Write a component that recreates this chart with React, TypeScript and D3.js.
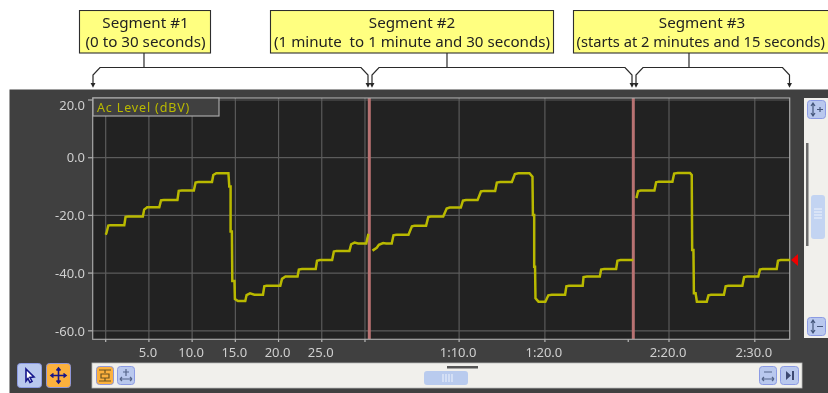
import React from "react";
import * as d3 from "d3";

const W = 828, H = 393;
const yTicks = [20, 0, -20, -40, -60];
const seg1Ticks = [0, 5, 10, 15, 20, 25, 30];
const seg2Ticks = [70, 80];
const seg2EndTick = [90];
const seg3Ticks = [140, 150];
const labelled: Record<number, string> = { 5: "5.0", 10: "10.0", 15: "15.0", 20: "20.0", 25: "25.0", 70: "1:10.0", 80: "1:20.0", 140: "2:20.0", 150: "2:30.0" };

const seg1Data: [number, number][] = [
  [0, -26.7], [0.1, -26], [0.3, -23.5], [0.5, -23.4], [2.15, -23.4], [2.3, -20.5], [2.6, -20.4], [4.3, -20.4], [4.45, -18], [4.8, -17.2], [6.2, -17.2], [6.4, -14.8], [6.7, -14.7],
  [8.3, -14.7], [8.45, -11.5], [8.8, -11.4], [10.2, -11.4], [10.4, -8.6], [10.7, -8.4], [12.3, -8.4], [12.45, -6], [12.8, -5.4], [14.2, -5.4], [14.3, -10], [14.45, -10], [14.45, -25.6], [14.6, -25.6],
  [14.65, -42.7], [14.9, -42.7], [14.95, -49], [15.3, -49.7], [16.15, -49.7], [16.3, -47.6], [16.7, -47], [17.2, -47.5], [18.2, -47.5], [18.35, -44.6], [18.6, -44.4], [20.2, -44.4],
  [20.4, -42], [20.8, -41.2], [22.2, -41.2], [22.35, -38.8], [22.7, -38.6], [24.3, -38.6], [24.45, -35.7], [24.8, -35.5], [26.2, -35.5], [26.4, -32.5], [26.7, -32.3], [28.2, -32.3],
  [28.4, -30], [28.8, -29.4], [29.2, -29.7], [30.15, -29.7], [30.4, -26.4],
];
const seg2Data: [number, number][] = [
  [59.9, -32.2], [60.4, -31.2], [60.65, -30.2], [61.15, -29.6], [61.5, -29.7], [62.15, -29.7], [62.35, -26.9], [62.7, -26.7], [64.1, -26.7], [64.5, -23.8], [64.8, -23.6], [66.15, -23.6],
  [66.4, -20.6], [66.7, -20.4], [68.15, -20.4], [68.55, -17.6], [68.9, -17.3], [70.2, -17.3], [70.45, -14.9], [70.8, -14.7], [72.15, -14.7], [72.55, -11.7], [72.9, -11.5], [74.2, -11.5],
  [74.4, -8.6], [74.8, -8.4], [76.15, -8.4], [76.5, -5.7], [76.9, -5.4], [78.2, -5.4], [78.55, -6.6], [78.6, -19.9], [78.75, -19.9], [78.75, -37.8], [78.85, -37.8], [78.9, -48.7], [79.25, -49.9],
  [80.05, -49.9], [80.4, -47.7], [80.8, -47.5], [82.35, -47.5], [82.5, -44.6], [82.8, -44.4], [84.4, -44.4], [84.5, -41.4], [84.9, -41.2], [86.4, -41.2], [86.55, -38.8], [86.9, -38.6],
  [88.3, -38.6], [88.45, -35.7], [88.8, -35.5], [90.3, -35.5],
];
const seg3Data: [number, number][] = [
  [136.2, -14], [136.4, -11.6], [136.7, -11.4], [138.3, -11.4], [138.5, -8.5], [138.8, -8.3], [140.4, -8.3], [140.6, -5.5], [141, -5.3], [142.45, -5.3], [142.65, -6], [142.7, -32], [142.85, -32],
  [142.9, -47], [143.1, -47], [143.25, -49.9], [144.4, -49.9], [144.6, -47.7], [144.9, -47.5], [146.4, -47.5], [146.6, -44.6], [146.9, -44.4], [148.55, -44.4], [148.75, -41.4], [149.1, -41.2],
  [150.4, -41.2], [150.6, -38.8], [150.9, -38.6], [152.55, -38.6], [152.7, -35.7], [153, -35.5], [154.1, -35.5],
];
const separators = [30.5, 90.3];
const calloutTitles = ["Segment #1", "Segment #2", "Segment #3"];
const calloutNotes = ["(0 to 30 seconds)", "(1 minute  to 1 minute and 30 seconds)", "(starts at 2 minutes and 15 seconds)"];

const y = d3.scaleLinear().domain([0, -60]).range([157.7, 330.8]);
const xA = d3.scaleLinear().domain([0, 30.5]).range([105.7, 369.3]);
const xB = d3.scaleLinear().domain([60, 90.3]).range([373.3, 633.3]);
const xC = d3.scaleLinear().domain([140, 154.1]).range([669, 790]);

const line = (sx: d3.ScaleLinear<number, number>) =>
  d3.line<[number, number]>().x((d) => sx(d[0])).y((d) => y(d[1]));

const TRACE = "#b9b900";
const FONT = "'Noto Sans', Tahoma, sans-serif";

const Btn = ({ x, y: by, w, h, on, children }: any) => (
  <g transform={`translate(${x},${by})`}>
    <rect x={0.5} y={0.5} width={w - 1} height={h - 1} rx={3} fill={on ? "#fcb13c" : "#b9c8ee"} stroke={on ? "#8f96d8" : "#8c9be4"} strokeWidth={1} />
    {children}
  </g>
);

const Bracket = ({ x0, x1, stem }: { x0: number; x1: number; stem: number }) => (
  <g fill="none" stroke="#2a2a2a" strokeWidth={1.2}>
    <path d={`M${stem},53V67.5`} />
    <path d={`M${x0},84V75L${x0 + 7},67.5H${x1 - 7}L${x1},75V84`} />
    <path d={`M${x0 - 1.5},83.5L${x0},86.5L${x0 + 1.5},83.5Z M${x1 - 1.5},83.5L${x1},86.5L${x1 + 1.5},83.5Z`} fill="#111" />
  </g>
);

export default function App() {
  const gridXs = [...seg1Ticks.map((t) => xA(t)), ...seg2Ticks.map((t) => xB(t)), ...seg3Ticks.map((t) => xC(t))];
  const boxes = [
    { x: 79, w: 132, cx: 145.5, noteSize: 15.2 },
    { x: 270, w: 284, cx: 412, noteSize: 15.1 },
    { x: 573, w: 270, cx: 702, noteSize: 14.7 },
  ];
  return (
    <svg width={W} height={H} viewBox={`0 0 ${W} ${H}`} style={{ position: "fixed", left: 0, top: 0, display: "block", background: "#fff" }} fontFamily={FONT}>
      <defs>
        <filter id="soft" x="0" y="0" width="100%" height="100%"><feGaussianBlur stdDeviation="0.35" /></filter>
      </defs>
      <g filter="url(#soft)">
      {/* callouts */}
      {boxes.map((b, i) => (
        <g key={i}>
          <rect x={b.x + 0.5} y={10.5} width={b.w - 1} height={42.5} fill="#ffff80" stroke="#2f2f2f" strokeWidth={1.1} />
          <text x={b.cx} y={27.5} textAnchor="middle" fontSize={15.2} fill="#222">{calloutTitles[i]}</text>
          {i === 2 ? (
            <text x={576.5} y={46.5} fontSize={b.noteSize} fill="#222" style={{ whiteSpace: "pre" }}>{calloutNotes[i]}</text>
          ) : (
            <text x={b.cx} y={46.5} textAnchor="middle" fontSize={b.noteSize} fill="#222" style={{ whiteSpace: "pre" }}>{calloutNotes[i]}</text>
          )}
        </g>
      ))}
      <Bracket x0={93} x1={368} stem={144} />
      <Bracket x0={372} x1={632} stem={447} />
      <Bracket x0={636} x1={789.5} stem={689} />

      {/* panel */}
      <rect x={9.5} y={89.5} width={W - 9.5} height={H - 89.5} fill="#3f3f3f" />
      <rect x={92.5} y={98} width={697.5} height={241.5} fill="#202020" />

      {/* grid */}
      {yTicks.map((v) => (
        <g key={v}>
          <line x1={88} x2={790} y1={y(v)} y2={y(v)} stroke="#5c5c5c" strokeWidth={1.2} />
          <line x1={88} x2={93} y1={y(v)} y2={y(v)} stroke="#aaa" strokeWidth={1.2} />
          <text x={85} y={Math.max(y(v), 105) + 4.7} textAnchor="end" fontSize={13} fill="#cfcfcf">{v.toFixed(1)}</text>
        </g>
      ))}
      {gridXs.map((gx, i) => (
        <g key={i}>
          <line x1={gx} x2={gx} y1={98} y2={339} stroke="#5c5c5c" strokeWidth={1.2} />
          <line x1={gx} x2={gx} y1={339} y2={342} stroke="#bbb" strokeWidth={1.2} />
        </g>
      ))}
      {seg2EndTick.map((t) => (
        <line key={t} x1={xB(t) - 2.5} x2={xB(t) - 2.5} y1={339} y2={342} stroke="#bbb" strokeWidth={1.2} />
      ))}
      {[...seg1Ticks.map((t) => [t, xA(t)]), ...seg2Ticks.map((t) => [t, xB(t)]), ...seg3Ticks.map((t) => [t, xC(t)])]
        .filter(([t]) => labelled[t])
        .map(([t, px]) => (
          <text key={t} x={px - 1} y={357} textAnchor="middle" fontSize={13} fill="#cfcfcf">{labelled[t]}</text>
        ))}

      {/* separators */}
      <line x1={xA(separators[0])} x2={xA(separators[0])} y1={98} y2={339} stroke="#b87272" strokeWidth={3} />
      <line x1={xB(separators[1])} x2={xB(separators[1])} y1={98} y2={339} stroke="#b87272" strokeWidth={3} />

      {/* frame */}
      <rect x={92.7} y={98} width={697} height={241.3} fill="none" stroke="#a8a8a8" strokeWidth={1.2} />

      {/* traces */}
      <path d={line(xA)(seg1Data)!} fill="none" stroke={TRACE} strokeWidth={2.5} />
      <path d={line(xB)(seg2Data)!} fill="none" stroke={TRACE} strokeWidth={2.5} />
      <path d={line(xC)(seg3Data)!} fill="none" stroke={TRACE} strokeWidth={2.5} />

      {/* legend */}
      <rect x={93} y={98} width={126} height={18} fill="#404040" stroke="#a8a8a8" strokeWidth={1.2} />
      <text x={97} y={111.5} fontSize={12.5} letterSpacing={0.85} fill={TRACE}>Ac Level (dBV)</text>

      {/* marker */}
      <path d={`M791,${y(-35.5)}L798,${y(-35.5) - 6}V${y(-35.5) + 6}Z`} fill="#f00000" />

      {/* right scrollbar */}
      <rect x={804} y={98} width={24} height={240} fill="#f1f0ec" />
      <rect x={806} y={143} width={2.5} height={103} fill="#6a6a6a" />
      <rect x={811} y={195} width={14} height={44} rx={3} fill="#c3d4f2" />
      <path d="M814,209h8M814,212h8M814,215h8M814,218h8" stroke="#eef3fc" strokeWidth={1} />
      <Btn x={807} y={100} w={19} h={19}>
        <path d="M6,4V15M4,6L6,3L8,6M4,13L6,16L8,13M10,9.5H16M13,7V12" stroke="#44557a" strokeWidth={1.2} fill="none" />
      </Btn>
      <Btn x={807} y={317} w={19} h={19}>
        <path d="M6,4V15M4,6L6,3L8,6M4,13L6,16L8,13M10,9.5H16" stroke="#44557a" strokeWidth={1.2} fill="none" />
      </Btn>

      {/* bottom bar */}
      <rect x={92} y={363} width={710} height={25} fill="#f1f0ec" stroke="#bbb" strokeWidth={0.8} />
      <rect x={447} y={366} width={31} height={2.5} fill="#555" />
      <rect x={424} y={371} width={44} height={14} rx={3} fill="#b9cbee" />
      <path d="M443,374v8M446,374v8M449,374v8M452,374v8" stroke="#eef3fc" strokeWidth={1} />
      <Btn x={96} y={366} w={18} h={19} on>
        <path d="M3,4H15M3,15H15M9,4V7M9,12V15M5,8H13V12H5Z" stroke="#6a5320" strokeWidth={1.2} fill="none" />
      </Btn>
      <Btn x={117} y={366} w={18} h={19}>
        <path d="M3,13H15M3,13L5,11M3,13L5,15M15,13L13,11M15,13L13,15M9,3V10M6,6H12" stroke="#55658a" strokeWidth={1.2} fill="none" />
      </Btn>
      <Btn x={759} y={366} w={18} h={19}>
        <path d="M3,13H15M3,13L5,11M3,13L5,15M15,13L13,11M15,13L13,15M5,6H13" stroke="#55658a" strokeWidth={1.2} fill="none" />
      </Btn>
      <Btn x={780} y={366} w={19} h={19}>
        <path d="M6,5V14L11,9.5Z M12,5H14V14H12Z" fill="#3c4a72" />
      </Btn>

      {/* tool buttons */}
      <Btn x={17} y={363} w={25} h={25}>
        <path d="M9,6L17,14L13,14.5L15,18.5L13,19.5L11,15.5L9,18Z" fill="#fff" stroke="#12128a" strokeWidth={1.6} />
      </Btn>
      <Btn x={46} y={363} w={25} h={25} on>
        <path d="M12.5,5V20M5,12.5H20M10.5,7.5L12.5,5L14.5,7.5M10.5,17.5L12.5,20L14.5,17.5M7.5,10.5L5,12.5L7.5,14.5M17.5,10.5L20,12.5L17.5,14.5" fill="none" stroke="#12128a" strokeWidth={1.6} />
      </Btn>
      </g>
    </svg>
  );
}
